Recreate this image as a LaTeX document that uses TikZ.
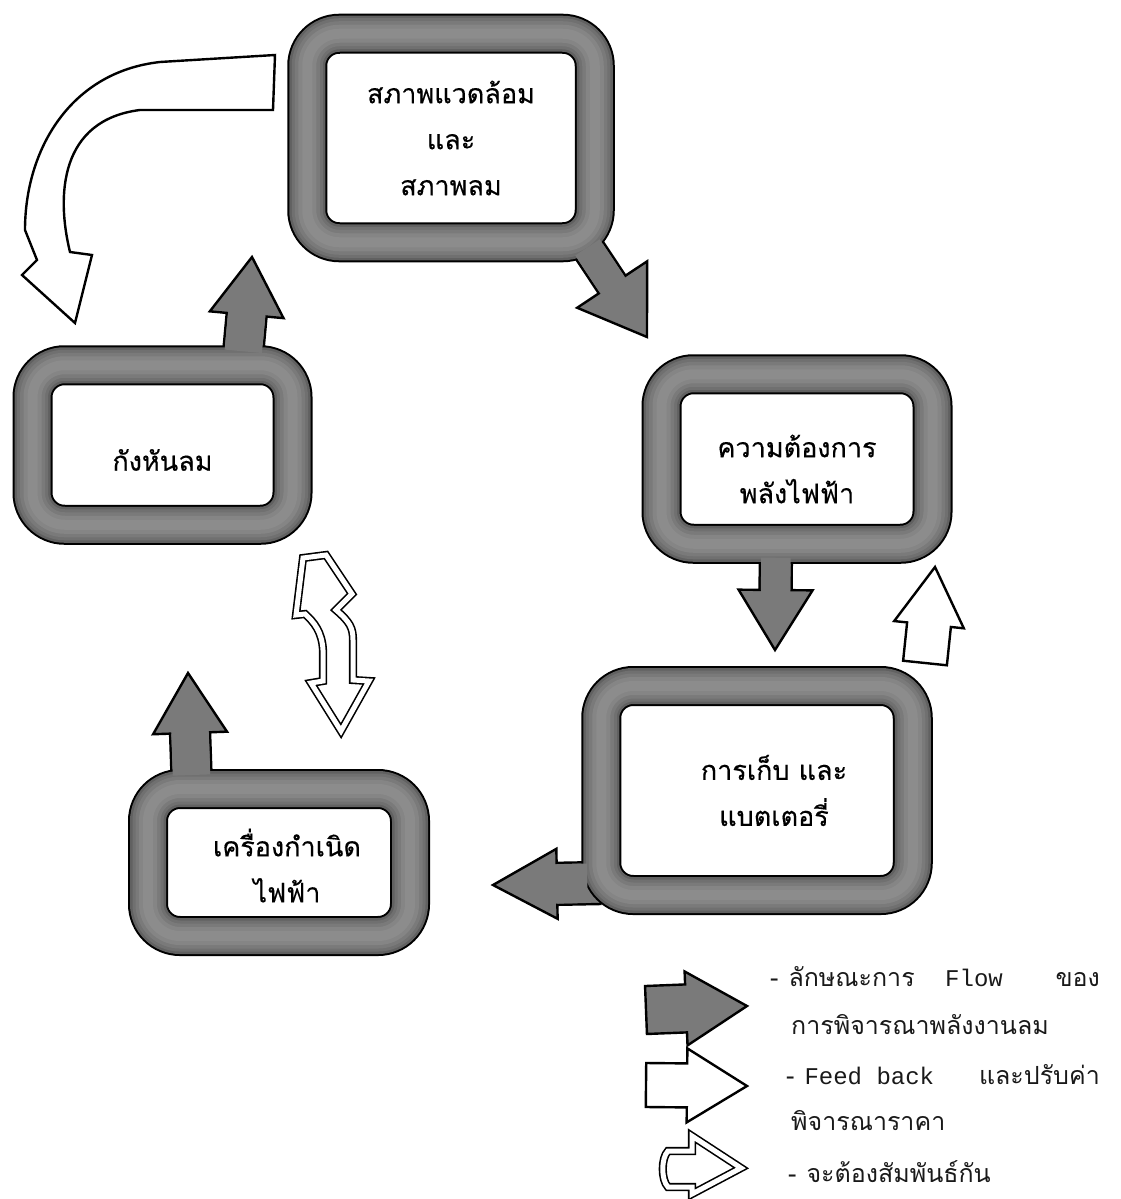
\documentclass[tikz,border=0pt]{standalone}
\usepackage{fontspec}
\newfontfamily\thaifont[Script=Thai]{Loma}
\newfontfamily\thaiboxfont[Script=Thai, FakeBold=0.4]{Loma}
\newfontfamily\typefont{Liberation Mono}
\usetikzlibrary{calc}
\pgfdeclarelayer{background}
\pgfdeclarelayer{front}
\pgfsetlayers{background,main,front}

\newcommand\boxtext{\thaiboxfont\fontsize{27}{46}\selectfont}
\newcommand\keytext{\thaifont\fontsize{25}{32}\selectfont}

% grey arrow that grows out of a frame: from, tip, half stem, half head, head length
\newcommand\flowarrow[5]{%
  \coordinate (ah) at ($(#2)!#5!(#1)$);
  \coordinate (as) at ($(#1)!14pt!(#2)$);
  \begin{pgfonlayer}{background}
    \path[flow] ($(#1)!#3!90:(#2)$) -- ($(ah)!#3!90:(#2)$) -- ($(ah)!#4!90:(#2)$) -- (#2)
      -- ($(ah)!#4!-90:(#2)$) -- ($(ah)!#3!-90:(#2)$) -- ($(#1)!#3!-90:(#2)$);
  \end{pgfonlayer}
  \pgfmathsetlengthmacro\patchw{#3-1.3pt}
  \begin{pgfonlayer}{front}
    \fill[flowfill] ($(as)!\patchw!90:(#2)$) -- ($(ah)!\patchw!90:(#2)$)
      -- ($(ah)!\patchw!-90:(#2)$) -- ($(as)!\patchw!-90:(#2)$) -- cycle;
  \end{pgfonlayer}
}
% free standing block arrow
\newcommand\blockarrow[6][feed]{%
  \coordinate (ah) at ($(#3)!#6!(#2)$);
  \path[#1] ($(#2)!#4!90:(#3)$) -- ($(ah)!#4!90:(#3)$) -- ($(ah)!#5!90:(#3)$) -- (#3)
    -- ($(ah)!#5!-90:(#3)$) -- ($(ah)!#4!-90:(#3)$) -- ($(#2)!#4!-90:(#3)$) -- cycle;
}

\tikzset{
  frame/.style={draw=black, line width=40pt, fill=white, outer sep=0pt, inner sep=0pt,
    rounded corners=32pt,
    postaction={draw=black!62, fill=none, line width=36pt},
    postaction={draw=black!56, fill=none, line width=31pt},
    postaction={draw=black!52, fill=none, line width=25pt},
    postaction={draw=black!48, fill=none, line width=18pt},
    postaction={draw=black!45, fill=none, line width=10pt}},
  boxlabel/.style={font=\boxtext, align=center, text=black, inner sep=0pt},
  flow/.style={draw=black, fill=black!52, line width=2.4pt},
  flowfill/.style={fill=black!52},
  feed/.style={draw=black, fill=white, line width=2.4pt},
  related/.style={draw=black, fill=white, line width=1.6pt, double=white, double distance=5pt},
  key/.style={inner sep=0pt, font=\keytext, text=black!90, anchor=base west}
}

\begin{document}
\begin{tikzpicture}[x=1pt,y=-1pt]
  \useasboundingbox (0,0) rectangle (1120,1199);

  \node[frame, minimum width=287.5pt, minimum height=208.5pt,
    label={[boxlabel]center:สภาพแวดล้อม\\และ\\สภาพลม}] (env) at (451,138) {};
  \node[frame, minimum width=260pt, minimum height=159.5pt,
    label={[boxlabel, yshift=-15pt]center:กังหันลม}] (turbine) at (162.5,445) {};
  \node[frame, minimum width=271pt, minimum height=169.5pt,
    label={[boxlabel, yshift=-10pt]center:ความต้องการ\\พลังไฟฟ้า}] (demand) at (797,459) {};
  \node[frame, minimum width=311.5pt, minimum height=209pt,
    label={[boxlabel, xshift=17pt]center:การเก็บ และ\\แบตเตอรี่}] (battery) at (757,790.5) {};
  \node[frame, minimum width=262pt, minimum height=147pt,
    label={[boxlabel, xshift=8pt, yshift=-3pt]center:เครื่องกำเนิด\\ไฟฟ้า}] (generator) at (279,862.5) {};

  % flow of the study
  \coordinate (env-out) at ([xshift=-15pt, yshift=6.5pt]env.south east);
  \coordinate (env-tip) at (647,337);
  \coordinate (dem-out) at ([xshift=-21pt]demand.south);
  \coordinate (dem-tip) at (775,650);
  \coordinate (bat-out) at ([yshift=-92.5pt]battery.west);
  \coordinate (bat-tip) at (493,885);
  \coordinate (gen-out) at ([xshift=-87pt]generator.north);
  \coordinate (gen-tip) at (188,673);
  \coordinate (tur-out) at ([xshift=79.5pt]turbine.north);
  \coordinate (tur-tip) at (252,257);
  \flowarrow{env-out}{env-tip}{16pt}{42pt}{63pt}
  \flowarrow{dem-out}{dem-tip}{16pt}{37pt}{60pt}
  \flowarrow{bat-out}{bat-tip}{21pt}{35pt}{64pt}
  \flowarrow{gen-out}{gen-tip}{20pt}{37pt}{60pt}
  \flowarrow{tur-out}{tur-tip}{20pt}{37pt}{58pt}

  % feed back
  \draw[feed] (275,55) -- (160,62) .. controls (70,72) and (25,150) .. (25,230) -- (37,260)
    -- (22,275) -- (75,323) -- (92,255) -- (70,252) .. controls (56,195) and (60,120) .. (140,110)
    -- (273,110) -- cycle;
  \coordinate (bat-back) at (925,663);
  \coordinate (dem-back) at (935,567);
  \blockarrow{bat-back}{dem-back}{22pt}{35pt}{58pt}

  % turbine <-> generator
  \draw[related] (303,558) -- (326,555) -- (352,594) -- (336,610) .. controls (350,622) and (353,628) .. (353,640)
    -- (353,680) -- (369,681) -- (341,731) -- (311,683) -- (323,681) -- (323,650)
    .. controls (322,632) and (314,622) .. (305,614) -- (296,615) -- cycle;

  % key
  \coordinate (key1-a) at (646,1010);
  \coordinate (key1-b) at (747,1006);
  \blockarrow[flow]{key1-a}{key1-b}{24pt}{37pt}{61pt}
  \coordinate (key2-a) at (646,1085);
  \coordinate (key2-b) at (747,1086);
  \blockarrow{key2-a}{key2-b}{22pt}{37pt}{60pt}
  \draw[related] (668,1151) -- (692,1151) -- (692,1136) -- (741,1168) -- (692,1194) -- (692,1187)
    -- (668,1187) .. controls (661,1180) and (661,1158) .. cycle;

  \node[key] (key1) at (770,986) {-\hspace{10pt}ลักษณะการ};
  \node[key, font=\typefont\fontsize{24}{30}\selectfont] (key1-flow) at (945,986) {Flow};
  \node[key, anchor=base east] (key1-end) at (1100,986) {ของ};
  \node[key] (key2) at (791,1034) {การพิจารณาพลังงานลม};
  \node[key] (key3) at (786,1084) {-\hspace{10pt}{\typefont\fontsize{24}{30}\selectfont Feed back}};
  \node[key, anchor=base east] (key3-end) at (1100,1084) {และปรับค่า};
  \node[key] (key4) at (791,1130) {พิจารณาราคา};
  \node[key] (key5) at (788,1182) {-\hspace{10pt}จะต้องสัมพันธ์กัน};
\end{tikzpicture}
\end{document}
